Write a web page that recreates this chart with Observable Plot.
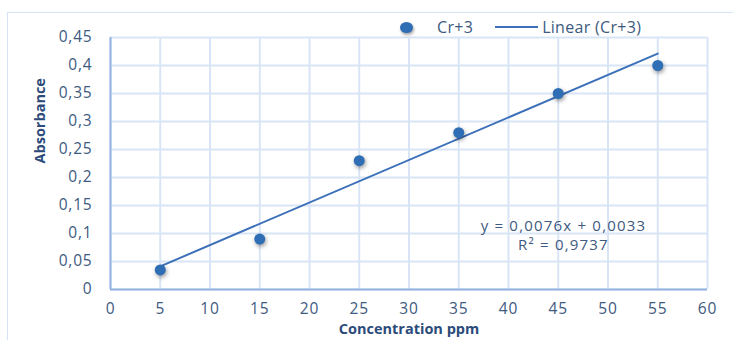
<!DOCTYPE html>
<html>
<head>
<meta charset="utf-8">
<script src="https://cdn.jsdelivr.net/npm/d3@7"></script>
<script src="https://cdn.jsdelivr.net/npm/@observablehq/plot@0.6"></script>
<style>
  html, body { margin: 0; padding: 0; background: #fff; }
  #wrap { position: relative; width: 733px; height: 340px; overflow: hidden; font-family: "Open Sans", sans-serif; }
  #frame { position: absolute; left: 7px; top: 12px; width: 800px; height: 400px; border: 1.5px solid #D6E3F5; box-sizing: border-box; }
  #chart { position: absolute; left: 0; top: 0; }
  #legend { position: absolute; top: 17px; left: 400px; height: 20px; display: flex; align-items: center; font-size: 16px; letter-spacing: 0.3px; color: #3E5A80; }
  .ldot { width: 13px; height: 11px; border-radius: 50%; background: #2F6EB5; box-shadow: 1px 2px 3px rgba(0,0,0,0.35); margin-right: 24px; }
  .lline { width: 43px; height: 0; border-top: 2px solid #3C70B8; margin: 0 4px 0 22px; }
  .dots circle { filter: drop-shadow(1px 2px 2px rgba(0,0,0,0.4)); }
  .ax text { letter-spacing: 0.8px; }
</style>
</head>
<body>
<div id="wrap">
  <div id="frame"></div>
  <div id="chart"></div>
  <div id="legend"><span class="ldot"></span><span>Cr+3</span><span class="lline"></span><span>Linear (Cr+3)</span></div>
</div>
<script>
// Data
const concentration = [5, 15, 25, 35, 45, 55];
const absorbance = [0.035, 0.09, 0.23, 0.28, 0.35, 0.40];
const slope = 0.0076;
const intercept = 0.0033;
const xTicks = [0, 5, 10, 15, 20, 25, 30, 35, 40, 45, 50, 55, 60];
const yTicks = [0, 0.05, 0.1, 0.15, 0.2, 0.25, 0.3, 0.35, 0.4, 0.45];
const equationLines = ["y = 0,0076x + 0,0033", "R² = 0,9737"];
const xTitle = "Concentration ppm";
const yTitle = "Absorbance";

const points = concentration.map((c, i) => ({c, a: absorbance[i]}));
const fitEnds = [concentration[0], concentration[concentration.length - 1]].map(c => ({c, a: slope * c + intercept}));
const comma = d => String(+d.toFixed(2)).replace(".", ",");

const tickColor = "#3E5A80";
const gridColor = "#D9E5F6";

const chart = Plot.plot({
  width: 733,
  height: 340,
  marginLeft: 110,
  marginRight: 26,
  marginTop: 37,
  marginBottom: 51,
  style: { fontFamily: "Open Sans, sans-serif", fontSize: "15px", color: tickColor, background: "transparent" },
  x: { domain: [0, 60] },
  y: { domain: [0, 0.45] },
  marks: [
    Plot.gridX(xTicks, { stroke: gridColor, strokeOpacity: 1, strokeWidth: 2 }),
    Plot.gridY(yTicks, { stroke: gridColor, strokeOpacity: 1, strokeWidth: 2 }),
    Plot.ruleX([0], { stroke: "#93B4E0", strokeWidth: 2 }),
    Plot.ruleY([0], { stroke: "#93B4E0", strokeWidth: 2 }),
    Plot.axisX({ ticks: xTicks, tickSize: 0, tickPadding: 13, tickFormat: comma, fill: tickColor, label: null, fontSize: 15.5, className: "ax" }),
    Plot.axisY({ ticks: yTicks, tickSize: 0, tickPadding: 18, tickFormat: comma, fill: tickColor, label: null, fontSize: 15.5, className: "ax" }),
    Plot.line(fitEnds, { x: "c", y: "a", stroke: "#3C70B8", strokeWidth: 2 }),
    Plot.dot(points, { x: "c", y: "a", r: 5.5, fill: "#2F6EB5", stroke: "none", className: "dots" }),
    Plot.text([equationLines.join("\n")], { frameAnchor: "top-left", dx: 453, dy: 179, text: d => d, textAnchor: "middle", lineAnchor: "top", fontSize: 15, lineHeight: 1.32, fill: tickColor, className: "eq" }),
    Plot.text([xTitle], { frameAnchor: "bottom", dy: 40, text: d => d, fontWeight: "bold", fontSize: 14.5, fill: "#2C4B7A", lineAnchor: "middle" }),
    Plot.text([yTitle], { frameAnchor: "left", dx: -70, text: d => d, fontWeight: "bold", fontSize: 14.5, fill: "#2C4B7A", rotate: -90, lineAnchor: "middle" })
  ]
});
chart.querySelectorAll(".eq text").forEach(t => t.setAttribute("letter-spacing", "1.2"));
document.getElementById("chart").appendChild(chart);
</script>
</body>
</html>
